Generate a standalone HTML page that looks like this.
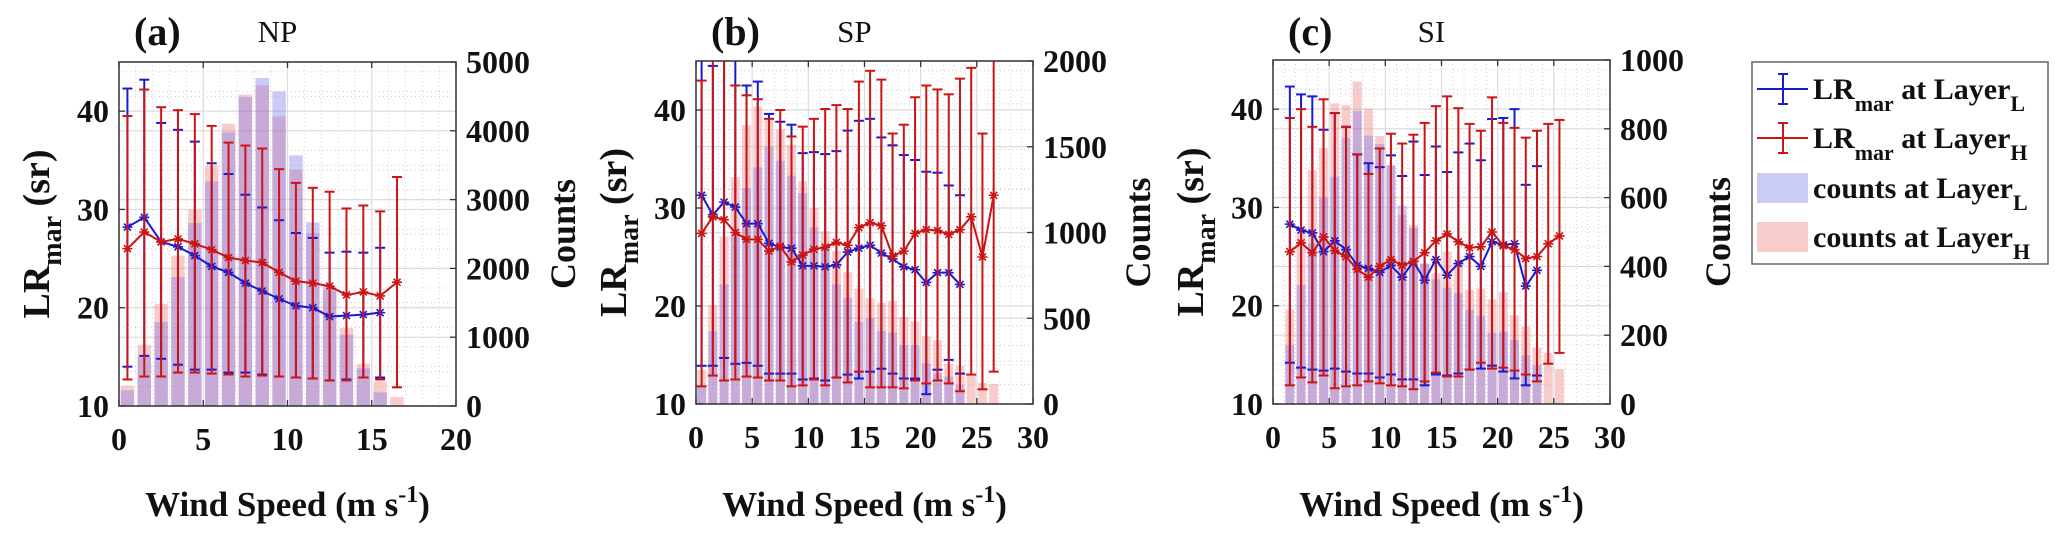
<!DOCTYPE html>
<html><head><meta charset="utf-8"><style>
html,body{margin:0;padding:0;background:#fff;}
svg{display:block;font-family:"Liberation Serif",serif;}
</style></head><body>
<svg id="fig" width="2067" height="554" viewBox="0 0 2067 554" xmlns="http://www.w3.org/2000/svg"></svg>
<script>
// ---------- Panel (a) NP ----------
const npBlueMean=[28.2,29.2,26.7,26.2,25.3,24.2,23.6,22.5,21.7,20.9,20.2,20.0,19.1,19.2,19.3,19.5];
const npBlueUp=[42.3,43.2,38.8,38.1,36.9,34.7,33.6,31.5,30.2,28.9,27.6,27.1,25.6,25.7,25.6,26.1];
const npBlueLo=[14.0,15.1,14.8,14.2,13.7,13.7,13.4,13.4,13.2,13.0,12.9,12.8,12.6,12.7,12.9,12.9];
const npRedMean=[26.0,27.7,26.7,27.0,26.5,25.9,25.1,24.8,24.6,23.6,22.7,22.5,22.2,21.3,21.6,21.2,22.6];
const npRedUp=[39.5,42.2,40.4,40.1,39.7,38.5,36.8,36.5,36.2,34.1,32.7,32.2,31.8,30.1,30.4,29.8,33.3];
const npRedLo=[12.7,13.0,13.0,13.4,13.4,13.3,13.2,13.0,13.1,13.0,12.9,12.8,12.6,12.6,12.9,12.7,11.9];
const npBlueCounts=[228,712,1221,1875,2660,3266,3978,4491,4767,4574,3643,2670,1739,1037,548,199];
const npRedCounts=[296,891,1483,2185,2854,3498,4104,4525,4661,4210,3435,2515,1681,1134,615,359,131];
const npXTicks=[0,5,10,15,20];
const npCountTicks=[0,1000,2000,3000,4000,5000];
// ---------- Panel (b) SP ----------
const spBlueMean=[31.3,29.3,30.6,30.1,28.4,28.4,26.4,26.0,25.9,24.1,24.1,24.0,24.2,25.5,25.9,26.2,25.4,24.8,24.0,23.7,22.4,23.4,23.4,22.2];
const spBlueUp=[46,44.5,46,46,42.5,42.9,39.6,38.8,38.5,35.6,35.7,35.5,35.8,37.9,38.9,39.1,37.2,36.4,35.4,34.9,33.7,33.6,32.3,31.3];
const spBlueLo=[13.9,13.9,14.7,14.1,14.2,13.9,13.1,13.1,13.1,12.5,12.6,12.4,12.7,13.0,12.6,13.3,13.6,13.1,12.6,12.6,11.0,13.5,14.5,13.1];
const spRedMean=[27.4,29.1,28.8,27.5,26.8,26.8,25.6,26.1,24.5,25.2,25.8,26.0,26.5,26.2,28.0,28.5,28.2,25.1,25.6,27.4,27.8,27.7,27.3,27.8,29.1,25.0,31.3];
const spRedUp=[43.0,46,46,42.5,41.5,41.1,39.1,40.0,37.3,38.3,39.1,40.1,40.5,40.1,42.9,44.0,43.1,37.6,38.5,41.3,42.5,42.1,41.6,43.2,44.3,37.6,47];
const spRedLo=[11.8,12.9,12.4,12.5,12.8,12.7,12.4,12.4,11.8,11.9,12.5,11.9,12.7,12.2,13.3,11.7,11.7,11.7,11.6,12.4,12.1,12.4,12.1,11.3,13.0,11.5,13.3];
const spBlueCounts=[100,424,698,977,1258,1380,1500,1419,1331,1229,1031,915,698,618,479,499,426,417,343,343,237,178,160,114];
const spRedCounts=[198,576,977,1322,1626,1733,1661,1603,1512,1297,1143,1008,892,769,673,618,591,600,508,481,398,371,233,224,165,123,117];
const spXTicks=[0,5,10,15,20,25,30];
const spCountTicks=[0,500,1000,1500,2000];
// ---------- Panel (c) SI ----------
const siBlueMean=[28.3,27.7,27.4,25.5,26.6,25.7,24.1,23.8,23.4,24.1,22.9,24.5,22.6,24.7,23.1,24.3,25.0,24.0,26.5,26.2,26.3,22.0,23.6];
const siBlueUp=[42.3,41.5,41.3,37.9,39.6,38.2,35.4,34.5,34.1,35.3,33.2,36.7,33.3,36.2,33.6,35.6,36.5,34.8,39.0,39.1,40.0,32.3,34.2];
const siBlueLo=[14.2,13.7,13.5,13.4,13.6,13.3,13.1,13.1,12.7,13.0,12.5,12.5,11.9,13.0,12.9,13.1,13.5,13.6,13.9,13.3,12.6,11.9,12.9];
const siRedMean=[25.5,26.4,25.4,27.0,25.6,25.0,23.7,22.9,24.0,24.7,24.1,24.5,25.4,26.6,27.3,26.5,25.9,26.0,27.5,26.1,25.7,24.8,25.0,26.3,27.1];
const siRedUp=[39.1,40.0,38.2,41.0,39.6,38.2,35.4,33.4,36.0,37.5,36.5,37.4,38.6,40.3,41.3,40.1,38.5,37.8,41.2,38.6,38.1,37.1,37.8,38.5,38.9];
const siRedLo=[11.9,12.7,12.2,12.9,11.6,11.8,11.9,12.3,12.1,11.9,11.8,11.5,12.3,13.2,12.8,12.8,13.5,14.2,13.6,13.7,13.4,13.0,12.3,14.1,15.2];
const siBlueCounts=[171,346,467,600,661,774,852,780,756,693,577,511,407,362,338,322,274,257,207,210,186,142,113];
const siRedCounts=[275,500,680,743,874,869,937,858,779,695,549,520,409,380,443,409,331,336,304,325,258,225,164,149,101];
const siXTicks=[0,5,10,15,20,25,30];
const siCountTicks=[0,200,400,600,800,1000];
const lrTicks=[10,20,30,40];

const NS="http://www.w3.org/2000/svg";
const svg=document.getElementById('fig');
function mk(parent,tag,attrs){const e=document.createElementNS(NS,tag);for(const k in attrs)e.setAttribute(k,attrs[k]);parent.appendChild(e);return e;}
const BLUE="#1a1ad0", RED="#cc1414";

function panel(id,L,R,T,B,xmax,cmax,x0,xTicks,cTicks,bc,rc,bm,bu,bl,rm,ru,rl,letter,title,countsX){
  const g=mk(svg,'g',{});
  
  
  const xs=v=>L+(R-L)*v/xmax;
  const ys=v=>B-(B-T)*(v-10)/35;
  const cs=v=>B-(B-T)*v/cmax;
  const defs=mk(g,'defs',{});
  const cp=mk(defs,'clipPath',{id:'clip-'+id});
  mk(cp,'rect',{x:L,y:T,width:R-L,height:B-T});
  // minor grid
  const grid=mk(g,'g',{stroke:'#cfcfcf','stroke-width':1,'stroke-dasharray':'1,3'});
  
  
  for(let v=1;v<xmax;v++){if(v%5) mk(grid,'line',{x1:xs(v),x2:xs(v),y1:T,y2:B});}
  for(let v=12;v<45;v+=2){if(v%10) mk(grid,'line',{x1:L,x2:R,y1:ys(v),y2:ys(v)});}
  for(let i=1;i<cTicks.length;i++){const m=(cTicks[i]+cTicks[i-1])/2;mk(grid,'line',{x1:L,x2:R,y1:cs(m),y2:cs(m)});}
  const maj=mk(g,'g',{stroke:'#dcdcdc','stroke-width':1.2});
  xTicks.forEach(v=>{if(v>0&&v<xmax) mk(maj,'line',{x1:xs(v),x2:xs(v),y1:T,y2:B});});
  lrTicks.forEach(v=>mk(maj,'line',{x1:L,x2:R,y1:ys(v),y2:ys(v)}));
  cTicks.forEach(v=>mk(maj,'line',{x1:L,x2:R,y1:cs(v),y2:cs(v)}));
  const plot=mk(g,'g',{'clip-path':'url(#clip-'+id+')'});
  const w=(R-L)/xmax*0.8;
  rc.forEach((c,i)=>{const x=xs(x0+i);const r=mk(plot,'rect',{x:x-w/2,y:cs(c),width:w,height:B-cs(c),fill:'rgba(238,110,110,0.35)'});
    
    });
  bc.forEach((c,i)=>{const x=xs(x0+i);const r=mk(plot,'rect',{x:x-w/2,y:cs(c),width:w,height:B-cs(c),fill:'rgba(105,105,235,0.35)'});
    
    });
  function series(m,u,l,col,nm){
    const sg=mk(plot,'g',{stroke:col,'stroke-width':2,fill:'none'});
    
    
    m.forEach((v,i)=>{const x=xs(x0+i);
      mk(sg,'line',{x1:x,x2:x,y1:ys(u[i]),y2:ys(l[i])});
      mk(sg,'line',{x1:x-5,x2:x+5,y1:ys(u[i]),y2:ys(u[i])});
      mk(sg,'line',{x1:x-5,x2:x+5,y1:ys(l[i]),y2:ys(l[i])});});
    mk(sg,'polyline',{points:m.map((v,i)=>xs(x0+i)+','+ys(v)).join(' ')});
    m.forEach((v,i)=>{const x=xs(x0+i),y=ys(v),s=5;
      const p=mk(sg,'path',{d:`M${x-s},${y}H${x+s}M${x},${y-s}V${y+s}M${x-s*.7},${y-s*.7}L${x+s*.7},${y+s*.7}M${x-s*.7},${y+s*.7}L${x+s*.7},${y-s*.7}`,'stroke-width':1.6});
      
      });
  }
  series(bm,bu,bl,BLUE,'lr-layer-l-'+id);
  series(rm,ru,rl,RED,'lr-layer-h-'+id);
  const box=mk(g,'rect',{x:L,y:T,width:R-L,height:B-T,fill:'none',stroke:'#333','stroke-width':1.5});
  
  
  const tk=mk(g,'g',{stroke:'#333','stroke-width':1.3});
  xTicks.forEach(v=>{mk(tk,'line',{x1:xs(v),x2:xs(v),y1:B,y2:B-6});mk(tk,'line',{x1:xs(v),x2:xs(v),y1:T,y2:T+6});});
  lrTicks.forEach(v=>mk(tk,'line',{x1:L,x2:L+6,y1:ys(v),y2:ys(v)}));
  cTicks.forEach(v=>mk(tk,'line',{x1:R,x2:R-6,y1:cs(v),y2:cs(v)}));
  const tl=mk(g,'g',{'font-weight':'bold','font-size':32,fill:'#111'});
  xTicks.forEach(v=>{const t=mk(tl,'text',{x:xs(v),y:B+44,'text-anchor':'middle'});t.textContent=v;
    
    });
  lrTicks.forEach(v=>{const t=mk(tl,'text',{x:L-10,y:ys(v)+11,'text-anchor':'end'});t.textContent=v;
    
    });
  cTicks.forEach(v=>{const t=mk(tl,'text',{x:R+10,y:cs(v)+11,'text-anchor':'start'});t.textContent=v;
    
    });
  const lt=mk(g,'text',{x:L+15,y:45,'font-weight':'bold','font-size':40,fill:'#111'});lt.textContent=letter;
  
  
  const tt=mk(g,'text',{x:L+(R-L)*0.47,y:42,'font-size':31,'text-anchor':'middle',fill:'#111'});tt.textContent=title;
  
  
  const xl=mk(g,'text',{x:(L+R)/2,y:516,'font-weight':'bold','font-size':35,'text-anchor':'middle',fill:'#111'});
  xl.innerHTML='Wind Speed (m s<tspan dy="-14" font-size="24">-1</tspan><tspan dy="14">)</tspan>';
  
  
  const yl=mk(g,'text',{transform:`translate(${L-70},${(T+B)/2}) rotate(-90)`,'font-weight':'bold','font-size':38,'text-anchor':'middle',fill:'#111'});
  yl.innerHTML='LR<tspan dy="12" font-size="28">mar</tspan><tspan dy="-12"> (sr)</tspan>';
  
  
  const cl=mk(g,'text',{transform:`translate(${countsX},${(T+B)/2}) rotate(-90)`,'font-weight':'bold','font-size':36,'text-anchor':'middle',fill:'#111'});
  cl.textContent='Counts';
  
  
}
panel('np',119,456,62,406,20,5000,0.5,npXTicks,npCountTicks,npBlueCounts,npRedCounts,npBlueMean,npBlueUp,npBlueLo,npRedMean,npRedUp,npRedLo,'(a)','NP',575);
panel('sp',696,1033,61,404,30,2000,0.5,spXTicks,spCountTicks,spBlueCounts,spRedCounts,spBlueMean,spBlueUp,spBlueLo,spRedMean,spRedUp,spRedLo,'(b)','SP',1150);
panel('si',1273,1610,60,404,30,1000,1.5,siXTicks,siCountTicks,siBlueCounts,siRedCounts,siBlueMean,siBlueUp,siBlueLo,siRedMean,siRedUp,siRedLo,'(c)','SI',1730);

// legend
const lg=mk(svg,'g',{});


mk(lg,'rect',{x:1752,y:62,width:296,height:202,fill:'#fff',stroke:'#666','stroke-width':1.5});
function lgLine(y,col,sub,nm){
  const e=mk(lg,'g',{stroke:col,'stroke-width':2});
  
  
  mk(e,'line',{x1:1757,x2:1808,y1:y,y2:y});
  mk(e,'line',{x1:1783,x2:1783,y1:y-15,y2:y+15});
  mk(e,'line',{x1:1778,x2:1788,y1:y-15,y2:y-15});
  mk(e,'line',{x1:1778,x2:1788,y1:y+15,y2:y+15});
  const t=mk(lg,'text',{x:1813,y:y+10,'font-weight':'bold','font-size':30,fill:'#111'});
  t.innerHTML='LR<tspan dy="12" font-size="22">mar</tspan><tspan dy="-12"> at Layer</tspan><tspan dy="12" font-size="22">'+sub+'</tspan>';
}
lgLine(89,BLUE,'L','legend-lr-layer-l');
lgLine(138,RED,'H','legend-lr-layer-h');
function lgBox(y,fill,sub,nm){
  const r=mk(lg,'rect',{x:1757,y:y-15,width:51,height:30,fill:fill});
  
  
  const t=mk(lg,'text',{x:1813,y:y+10,'font-weight':'bold','font-size':30,fill:'#111'});
  t.innerHTML='counts at Layer<tspan dy="12" font-size="22">'+sub+'</tspan>';
}
lgBox(188,'rgba(105,105,235,0.35)','L','legend-counts-layer-l');
lgBox(237,'rgba(238,110,110,0.35)','H','legend-counts-layer-h');
</script>
</body></html>
